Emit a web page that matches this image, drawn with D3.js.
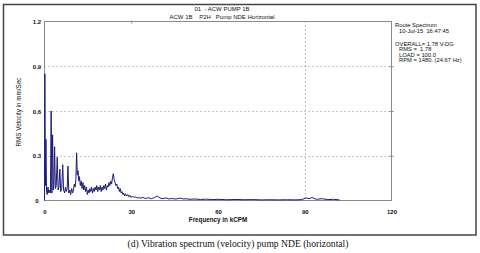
<!DOCTYPE html>
<html><head>
<meta charset="utf-8">
<script src="https://cdn.jsdelivr.net/npm/d3@7"></script>
<style>
body{ margin:0; background:#fff; }
text{ font-family:"Liberation Sans", Arial, sans-serif; fill:#111; }
.grid{ stroke:#8a8a8a; stroke-width:1; stroke-dasharray:1,3; fill:none; }
.frame{ stroke:#8a8a8a; stroke-width:1; fill:none; }
.axis path, .axis line{ stroke:#8a8a8a; }
.axis text{ font-size:6px; font-weight:bold; }
</style>
</head>
<body>
<script>
var width = 480, height = 253;

// spectrum (kCPM / mm/Sec)
var freq = [0.00,0.12,0.30,0.50,0.70,0.95,1.20,1.45,1.75,2.05,2.30,2.55,2.80,3.05,3.25,3.50,3.75,4.05,4.40,4.70,
  5.00,5.30,5.60,5.95,6.30,6.60,6.95,7.25,7.55,7.85,8.10,8.40,8.75,9.05,9.40,9.70,10.00,10.30,10.60,10.85,
  11.10,11.35,11.60,11.85,12.10,12.40,12.70,13.00,13.30,13.60,13.90,14.20,14.50,14.80,15.10,15.40,15.70,16.00,16.30,16.60,
  16.90,17.20,17.50,17.80,18.10,18.40,18.70,19.00,19.30,19.60,19.90,20.20,20.50,20.80,21.10,21.40,21.70,22.00,22.30,22.60,
  22.90,23.20,23.50,23.80,24.10,24.40,24.70,25.00,25.30,25.60,25.90,26.20,26.50,26.80,27.10,27.40,27.70,28.00,28.40,28.80,
  29.20,29.60,30.00,30.50,31.00,31.50,32.00,32.50,33.00,34.00,35.00,36.00,37.00,38.00,39.00,40.00,41.00,42.00,43.00,44.00,
  45.00,46.00,47.00,48.00,49.00,50.00,52.00,54.00,56.00,58.00,60.00,63.00,66.00,69.00,72.00,75.00,78.00,81.00,84.00,87.00,
  89.00,90.50,91.50,92.50,94.00,96.00,98.00,100.00,102.00];
var velocity = [0.00,0.85,0.10,0.41,0.06,0.04,0.09,0.05,0.07,0.05,0.60,0.05,0.44,0.07,0.11,0.36,0.08,0.10,0.29,0.07,
  0.09,0.21,0.06,0.08,0.24,0.07,0.05,0.09,0.06,0.08,0.23,0.05,0.07,0.04,0.08,0.05,0.07,0.11,0.09,0.14,
  0.32,0.17,0.20,0.13,0.16,0.10,0.13,0.08,0.12,0.07,0.10,0.06,0.09,0.04,0.07,0.05,0.08,0.06,0.09,0.05,
  0.08,0.06,0.09,0.07,0.10,0.06,0.09,0.07,0.10,0.06,0.09,0.07,0.10,0.08,0.11,0.07,0.10,0.09,0.12,0.10,
  0.13,0.11,0.15,0.18,0.14,0.12,0.10,0.11,0.08,0.09,0.06,0.08,0.05,0.06,0.04,0.05,0.03,0.045,0.03,0.04,
  0.025,0.035,0.02,0.03,0.02,0.025,0.015,0.022,0.016,0.02,0.014,0.018,0.012,0.02,0.03,0.016,0.012,0.018,0.01,0.014,
  0.01,0.012,0.016,0.01,0.012,0.008,0.01,0.007,0.009,0.006,0.008,0.005,0.007,0.005,0.006,0.004,0.005,0.004,0.005,0.004,
  0.006,0.018,0.012,0.02,0.008,0.012,0.006,0.008,0.004];

var xTicks = [0, 30, 60, 90, 120];
var yTicks = [0, 0.3, 0.6, 0.9, 1.2];
var gridY = [0.3, 0.6, 0.9];
var gridX = [90];

var titleLines = ["01  - ACW PUMP 1B", "ACW 1B    P2H   Pump NDE Horizontal"];
var infoLines = [
  {t:"Route Spectrum", indent:0, y:27},
  {t:"10-Jul-15  16:47:45", indent:1, y:32.5},
  {t:"OVERALL= 1.78 V-DG", indent:0, y:45.5},
  {t:"RMS =  1.78", indent:1, y:51},
  {t:"LOAD = 100.0", indent:1, y:56.5},
  {t:"RPM = 1480. (24.67 Hz)", indent:1, y:62}
];

var svg = d3.select("body").append("svg")
  .attr("width", width).attr("height", height);

svg.append("rect").attr("width", width).attr("height", height).attr("fill", "#fff");

// outer box
svg.append("rect")
  .attr("x", 3.5).attr("y", 4.5).attr("width", 472.5).attr("height", 230.5)
  .attr("fill", "none").attr("stroke", "#444").attr("stroke-width", 1.5);

var x = d3.scaleLinear().domain([0, 120]).range([44.5, 391.5]);
var y = d3.scaleLinear().domain([0, 1.2]).range([200.5, 21.5]);

// grid
svg.selectAll(".gy").data(gridY).enter().append("line")
  .attr("class", "grid")
  .attr("x1", x(0)).attr("x2", x(120))
  .attr("y1", function(d){ return Math.round(y(d)) + 0.5; })
  .attr("y2", function(d){ return Math.round(y(d)) + 0.5; });
svg.selectAll(".gx").data(gridX).enter().append("line")
  .attr("class", "grid")
  .attr("y1", y(1.2)).attr("y2", y(0))
  .attr("x1", function(d){ return Math.round(x(d)) + 0.5; })
  .attr("x2", function(d){ return Math.round(x(d)) + 0.5; });

// frame
svg.append("rect").attr("class", "frame")
  .attr("x", x(0)).attr("y", y(1.2))
  .attr("width", x(120) - x(0)).attr("height", y(0) - y(1.2));

// small ticks on right and top borders
svg.append("g").attr("class", "axis")
  .attr("transform", "translate(" + (x(120) - 2) + ",0)")
  .call(d3.axisRight(y).tickValues(gridY).tickSize(4).tickFormat(""))
  .call(function(g){ g.select(".domain").remove(); });
svg.append("g").attr("class", "axis")
  .attr("transform", "translate(0," + (y(1.2) - 1) + ")")
  .call(d3.axisBottom(x).tickValues([30]).tickSize(3).tickFormat(""))
  .call(function(g){ g.select(".domain").remove(); });

// axes labels
svg.append("g").attr("class", "axis")
  .attr("transform", "translate(" + x(0) + ",0)")
  .call(d3.axisLeft(y).tickValues(yTicks).tickSize(0).tickPadding(7)
    .tickFormat(function(d){ return d === 0 ? "0" : d3.format(".1f")(d); }))
  .call(function(g){
    g.select(".domain").remove();
    g.selectAll("text").attr("text-anchor", "middle").attr("x", -7.5).attr("dy", "0.35em");
  });

svg.append("g").attr("class", "axis")
  .attr("transform", "translate(0," + (y(0) + 9) + ")")
  .call(d3.axisBottom(x).tickValues(xTicks).tickSize(0).tickPadding(0))
  .call(function(g){ g.select(".domain").remove(); });

// spectrum
var line = d3.line()
  .x(function(d){ return x(d[0]); })
  .y(function(d){ return y(d[1]); });
svg.append("path")
  .datum(d3.zip(freq, velocity))
  .attr("d", line)
  .attr("fill", "none")
  .attr("stroke", "#1b1b7a")
  .attr("stroke-width", 1);

// titles
svg.selectAll(".title").data(titleLines).enter().append("text")
  .attr("x", 222).attr("y", function(d, i){ return 11 + i * 7.5; })
  .attr("text-anchor", "middle").attr("font-size", "6px")
  .style("white-space", "pre")
  .text(function(d){ return d; });

svg.selectAll(".info").data(infoLines).enter().append("text")
  .attr("x", function(d){ return 395 + d.indent * 4; })
  .attr("y", function(d){ return d.y; })
  .attr("font-size", "5.8px")
  .style("white-space", "pre")
  .text(function(d){ return d.t; });

svg.append("text")
  .attr("transform", "translate(21," + 112 + ") rotate(-90)")
  .attr("text-anchor", "middle").attr("font-size", "6.3px")
  .text("RMS Velocity in mm/Sec");

svg.append("text")
  .attr("x", 218).attr("y", 222)
  .attr("text-anchor", "middle").attr("font-size", "6.3px").attr("font-weight", "bold")
  .text("Frequency in kCPM");

svg.append("text")
  .attr("x", 238).attr("y", 246.5)
  .attr("text-anchor", "middle")
  .style("font-family", "'Liberation Serif', 'Times New Roman', serif")
  .attr("font-size", "9.6px")
  .text("(d) Vibration spectrum (velocity) pump NDE (horizontal)");
</script>
</body></html>
